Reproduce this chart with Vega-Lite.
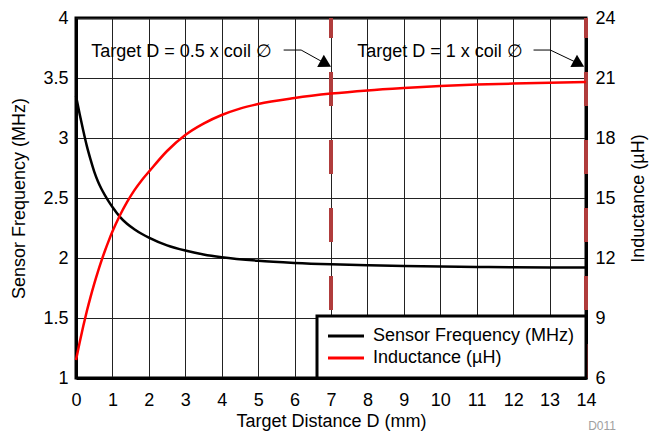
{
  "$schema": "https://vega.github.io/schema/vega-lite/v6.json",
  "width": 510,
  "height": 360,
  "autosize": {"type": "none"},
  "padding": {"left": 76, "top": 18, "right": 64, "bottom": 56},
  "title": {"text": "D011", "orient": "bottom", "anchor": "end", "frame": "group", "dx": 30, "offset": -9},
  "datasets": {
    "freq": [
      {"d": 0, "f": 3.35, "s": "Sensor Frequency (MHz)"},
      {"d": 0.1, "f": 3.2, "s": "Sensor Frequency (MHz)"},
      {"d": 0.2, "f": 3.06, "s": "Sensor Frequency (MHz)"},
      {"d": 0.3, "f": 2.93, "s": "Sensor Frequency (MHz)"},
      {"d": 0.4, "f": 2.82, "s": "Sensor Frequency (MHz)"},
      {"d": 0.5, "f": 2.72, "s": "Sensor Frequency (MHz)"},
      {"d": 0.6, "f": 2.64, "s": "Sensor Frequency (MHz)"},
      {"d": 0.7, "f": 2.575, "s": "Sensor Frequency (MHz)"},
      {"d": 0.8, "f": 2.52, "s": "Sensor Frequency (MHz)"},
      {"d": 0.9, "f": 2.47, "s": "Sensor Frequency (MHz)"},
      {"d": 1.0, "f": 2.425, "s": "Sensor Frequency (MHz)"},
      {"d": 1.2, "f": 2.345, "s": "Sensor Frequency (MHz)"},
      {"d": 1.4, "f": 2.285, "s": "Sensor Frequency (MHz)"},
      {"d": 1.6, "f": 2.24, "s": "Sensor Frequency (MHz)"},
      {"d": 1.8, "f": 2.202, "s": "Sensor Frequency (MHz)"},
      {"d": 2.0, "f": 2.17, "s": "Sensor Frequency (MHz)"},
      {"d": 2.5, "f": 2.105, "s": "Sensor Frequency (MHz)"},
      {"d": 3.0, "f": 2.062, "s": "Sensor Frequency (MHz)"},
      {"d": 3.5, "f": 2.03, "s": "Sensor Frequency (MHz)"},
      {"d": 4.0, "f": 2.007, "s": "Sensor Frequency (MHz)"},
      {"d": 5.0, "f": 1.977, "s": "Sensor Frequency (MHz)"},
      {"d": 6.0, "f": 1.959, "s": "Sensor Frequency (MHz)"},
      {"d": 7.0, "f": 1.947, "s": "Sensor Frequency (MHz)"},
      {"d": 8.0, "f": 1.939, "s": "Sensor Frequency (MHz)"},
      {"d": 9.0, "f": 1.933, "s": "Sensor Frequency (MHz)"},
      {"d": 10.0, "f": 1.929, "s": "Sensor Frequency (MHz)"},
      {"d": 11.0, "f": 1.926, "s": "Sensor Frequency (MHz)"},
      {"d": 12.0, "f": 1.923, "s": "Sensor Frequency (MHz)"},
      {"d": 13.0, "f": 1.921, "s": "Sensor Frequency (MHz)"},
      {"d": 14.0, "f": 1.92, "s": "Sensor Frequency (MHz)"}
    ],
    "ind": [
      {"d": 0, "l": 6.9, "s": "Inductance (µH)"},
      {"d": 0.1, "l": 7.78, "s": "Inductance (µH)"},
      {"d": 0.2, "l": 8.6, "s": "Inductance (µH)"},
      {"d": 0.3, "l": 9.36, "s": "Inductance (µH)"},
      {"d": 0.4, "l": 10.06, "s": "Inductance (µH)"},
      {"d": 0.5, "l": 10.71, "s": "Inductance (µH)"},
      {"d": 0.6, "l": 11.31, "s": "Inductance (µH)"},
      {"d": 0.7, "l": 11.87, "s": "Inductance (µH)"},
      {"d": 0.8, "l": 12.39, "s": "Inductance (µH)"},
      {"d": 0.9, "l": 12.87, "s": "Inductance (µH)"},
      {"d": 1.0, "l": 13.32, "s": "Inductance (µH)"},
      {"d": 1.2, "l": 14.11, "s": "Inductance (µH)"},
      {"d": 1.4, "l": 14.79, "s": "Inductance (µH)"},
      {"d": 1.6, "l": 15.38, "s": "Inductance (µH)"},
      {"d": 1.8, "l": 15.88, "s": "Inductance (µH)"},
      {"d": 2.0, "l": 16.31, "s": "Inductance (µH)"},
      {"d": 2.5, "l": 17.35, "s": "Inductance (µH)"},
      {"d": 3.0, "l": 18.15, "s": "Inductance (µH)"},
      {"d": 3.5, "l": 18.72, "s": "Inductance (µH)"},
      {"d": 4.0, "l": 19.15, "s": "Inductance (µH)"},
      {"d": 4.5, "l": 19.47, "s": "Inductance (µH)"},
      {"d": 5.0, "l": 19.7, "s": "Inductance (µH)"},
      {"d": 6.0, "l": 20.0, "s": "Inductance (µH)"},
      {"d": 7.0, "l": 20.22, "s": "Inductance (µH)"},
      {"d": 8.0, "l": 20.38, "s": "Inductance (µH)"},
      {"d": 9.0, "l": 20.5, "s": "Inductance (µH)"},
      {"d": 10.0, "l": 20.6, "s": "Inductance (µH)"},
      {"d": 11.0, "l": 20.67, "s": "Inductance (µH)"},
      {"d": 12.0, "l": 20.72, "s": "Inductance (µH)"},
      {"d": 13.0, "l": 20.76, "s": "Inductance (µH)"},
      {"d": 14.0, "l": 20.8, "s": "Inductance (µH)"}
    ],
    "targets": [
      {"d": 7, "lo": 1, "hi": 4},
      {"d": 14, "lo": 1, "hi": 4}
    ],
    "notes": [
      {"d": 0.42, "f": 3.72, "label": "Target D = 0.5 x coil ∅"},
      {"d": 7.72, "f": 3.72, "label": "Target D = 1 x coil ∅"}
    ],
    "leaders": [
      {"g": 1, "o": 1, "d": 5.7, "f": 3.733},
      {"g": 1, "o": 2, "d": 6.18, "f": 3.733},
      {"g": 1, "o": 3, "d": 6.85, "f": 3.62},
      {"g": 2, "o": 1, "d": 12.56, "f": 3.733},
      {"g": 2, "o": 2, "d": 13.02, "f": 3.733},
      {"g": 2, "o": 3, "d": 13.8, "f": 3.62}
    ],
    "heads": [
      {"d": 7.0, "f": 3.594},
      {"d": 13.95, "f": 3.594}
    ]
  },
  "encoding": {
    "x": {
      "field": "d",
      "type": "quantitative",
      "title": "Target Distance D (mm)",
      "scale": {"domain": [0, 14], "nice": false},
      "axis": {
        "values": [0, 1, 2, 3, 4, 5, 6, 7, 8, 9, 10, 11, 12, 13, 14],
        "grid": true,
        "labelFlush": false,
        "labelPadding": 13,
        "titlePadding": 3
      }
    }
  },
  "layer": [
    {
      "encoding": {
        "y": {
          "field": "f",
          "type": "quantitative",
          "title": "Sensor Frequency (MHz)",
          "scale": {"domain": [1, 4], "nice": false},
          "axis": {
            "values": [1, 1.5, 2, 2.5, 3, 3.5, 4],
            "format": "~g",
            "grid": true,
            "labelFlush": false,
            "labelPadding": 8,
            "titlePadding": 14
          }
        }
      },
      "layer": [
        {
          "data": {"name": "targets"},
          "mark": {"type": "rule", "color": "#b03c3c", "strokeWidth": 4, "strokeDash": [34, 34]},
          "encoding": {
            "y": {"field": "lo", "type": "quantitative", "title": "Sensor Frequency (MHz)"},
            "y2": {"field": "hi"}
          }
        },
        {
          "data": {"name": "freq"},
          "mark": {"type": "line", "interpolate": "monotone", "strokeWidth": 2.5},
          "encoding": {
            "color": {
              "field": "s",
              "type": "nominal",
              "scale": {"domain": ["Sensor Frequency (MHz)", "Inductance (µH)"], "range": ["black", "red"]},
              "legend": {
                "title": null,
                "orient": "bottom-right",
                "offset": 0,
                "fillColor": "white",
                "strokeColor": "black",
                "padding": 11,
                "labelFontSize": 18,
                "labelColor": "black",
                "labelLimit": 400,
                "symbolType": "M-1.5,0H4.5",
                "symbolSize": 144,
                "symbolStrokeWidth": 3,
                "labelOffset": 27,
                "rowPadding": 4,
                "encode": {"legend": {"update": {"strokeWidth": {"value": 3}}}}
              }
            }
          }
        },
        {
          "data": {"name": "leaders"},
          "mark": {"type": "line", "color": "black", "strokeWidth": 1},
          "encoding": {
            "detail": {"field": "g", "type": "nominal"},
            "order": {"field": "o", "type": "quantitative"}
          }
        },
        {
          "data": {"name": "heads"},
          "mark": {"type": "point", "shape": "M0,0L-13.8,0.2L-7.2,-11.9Z", "filled": true, "size": 4, "color": "black", "opacity": 1}
        },
        {
          "data": {"name": "notes"},
          "mark": {"type": "text", "align": "left", "baseline": "middle", "fontSize": 18, "color": "black"},
          "encoding": {"text": {"field": "label"}}
        }
      ]
    },
    {
      "data": {"name": "ind"},
      "mark": {"type": "line", "interpolate": "monotone", "strokeWidth": 2.5},
      "encoding": {
        "y": {
          "field": "l",
          "type": "quantitative",
          "title": "Inductance (µH)",
          "scale": {"domain": [6, 24], "nice": false},
          "axis": {
            "orient": "right",
            "values": [6, 9, 12, 15, 18, 21, 24],
            "grid": false,
            "labelFlush": false,
            "labelPadding": 9,
            "titlePadding": 14,
            "titleAngle": 270,
            "titleBaseline": "top"
          }
        },
        "color": {"field": "s", "type": "nominal"}
      }
    }
  ],
  "resolve": {"scale": {"y": "independent"}},
  "config": {
    "font": "Liberation Sans",
    "view": {"stroke": "black", "strokeWidth": 3},
    "axis": {
      "domainColor": "black",
      "domainWidth": 3,
      "ticks": false,
      "grid": false,
      "gridColor": "#222222",
      "gridWidth": 1,
      "gridOpacity": 1,
      "labelFontSize": 18,
      "labelColor": "black",
      "labelFont": "Liberation Sans",
      "titleFontSize": 18,
      "titleFontWeight": "normal",
      "titleColor": "black",
      "titleFont": "Liberation Sans"
    },
    "title": {"fontSize": 12, "fontWeight": "normal", "color": "#a0a0a0", "font": "Liberation Sans"}
  }
}
